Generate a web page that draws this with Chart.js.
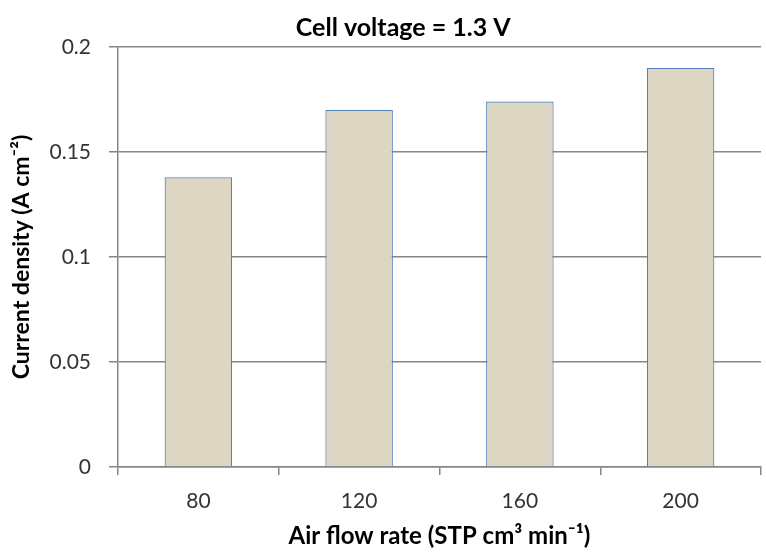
<!DOCTYPE html>
<html>
<head>
<meta charset="utf-8">
<script src="https://cdn.jsdelivr.net/npm/chart.js@4/dist/chart.umd.min.js"></script>
<style>
  html, body { margin: 0; padding: 0; background: #fff; }
  #wrap { width: 766px; height: 553px; }
</style>
</head>
<body>
<div id="wrap"><canvas id="myChart" width="766" height="553"></canvas></div>
<script>
var flowRates = ['80', '120', '160', '200'];
var currentDensity = [0.138, 0.170, 0.174, 0.190];
var yTicks = [0, 0.05, 0.1, 0.15, 0.2];

var gris = '#868686';
var fuente = 'Lato, "Open Sans", sans-serif';

var canvas = document.getElementById('myChart').getContext('2d');
var chart = new Chart(canvas, {
    type : 'bar',
    data : {
        labels : flowRates,
        datasets : [ {
            label : 'Current density',
            data : currentDensity,
            backgroundColor : '#DCD6C3',
            borderColor : '#4F81BD',
            borderWidth : 1.2,
            borderSkipped : 'bottom',
            barPercentage : 0.42,
            categoryPercentage : 1.0
        } ]
    },
    options : {
        responsive : false,
        animation : false,
        layout : { padding : { left : 8, right : 5, top : 0, bottom : 2 } },
        plugins : {
            legend : { display : false },
            tooltip : { enabled : false },
            title : {
                display : true,
                // espacios al inicio para correr el titulo a la derecha como en el original
                text : '\u2003\u2003Cell voltage = 1.3 V',
                color : '#000',
                font : { family : fuente, size : 25, weight : 'bold' },
                padding : { top : 13, bottom : 4 }
            }
        },
        scales : {
            x : {
                offset : true,
                grid : {
                    offset : true,
                    drawOnChartArea : false,
                    tickLength : 8,
                    color : gris,
                    lineWidth : 1.5
                },
                border : { color : gris, width : 1.5 },
                ticks : {
                    color : '#333',
                    font : { family : fuente, size : 21 },
                    padding : 14
                },
                title : {
                    display : true,
                    text : 'Air flow rate (STP cm\u00B3 min\u207B\u00B9)',
                    color : '#000',
                    font : { family : fuente, size : 24, weight : 'bold' },
                    padding : { top : 4, bottom : 0 }
                },
                afterFit : function(scale) { scale.height = 84; }
            },
            y : {
                min : 0,
                max : 0.2,
                afterBuildTicks : function(scale) {
                    scale.ticks = yTicks.map(function(v) { return { value : v }; });
                },
                grid : {
                    color : gris,
                    lineWidth : 1.5,
                    tickLength : 9
                },
                border : { color : gris, width : 1.5 },
                ticks : {
                    color : '#333',
                    font : { family : fuente, size : 21 },
                    padding : 18,
                    callback : function(v) { return String(Math.round(v * 100) / 100); }
                },
                title : {
                    display : true,
                    text : 'Current density (A cm\u207B\u00B2)',
                    color : '#000',
                    font : { family : fuente, size : 23, weight : 'bold' },
                    padding : { top : 0, bottom : 4 }
                },
                afterFit : function(scale) { scale.width = 110; }
            }
        }
    }
});
</script>
</body>
</html>
